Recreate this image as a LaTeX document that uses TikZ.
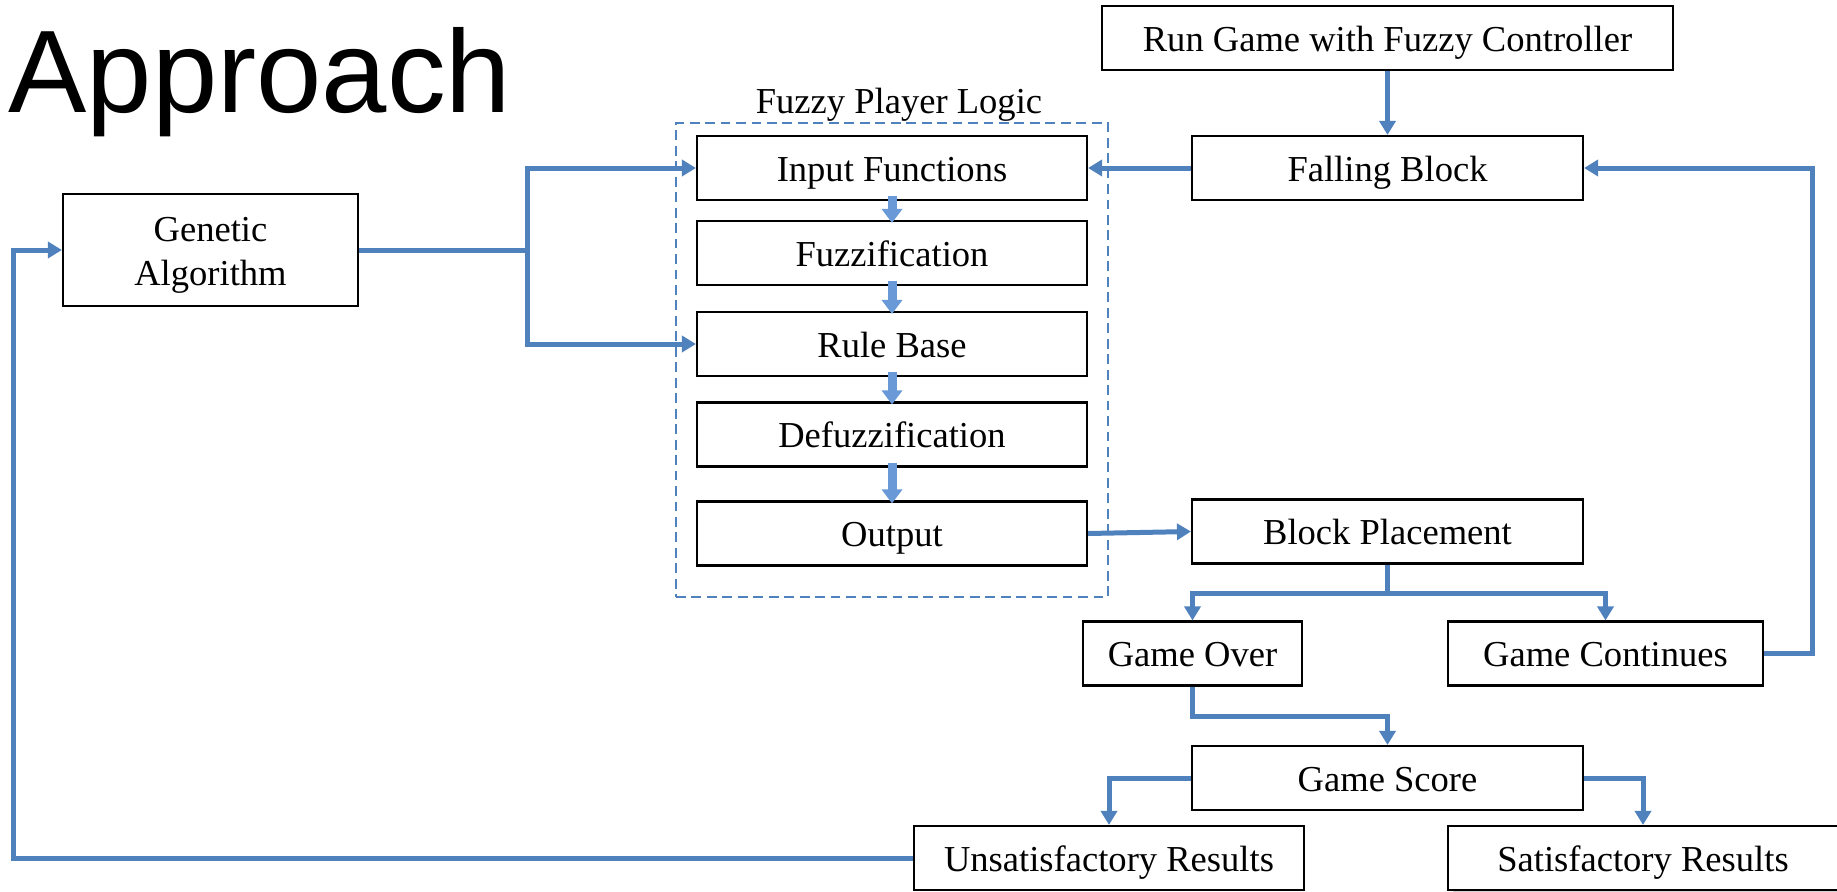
\documentclass[tikz,border=0pt]{standalone}
\usepackage{fontspec}
\setmainfont{Liberation Serif}
\newfontfamily\headfont{Liberation Sans}
\usetikzlibrary{arrows.meta,shadows}

\definecolor{fzblue}{HTML}{4F81BD}
\definecolor{fzlight}{HTML}{6A99D8}

\begin{document}
\begin{tikzpicture}[x=0.1mm, y=-0.1mm,
    font=\fontsize{10.4pt}{12.5pt}\selectfont,
    link/.style={draw=fzblue, line width=0.5mm},
    flow/.style={link, -{Triangle[width=1.6mm,length=1.4mm]}},
    pipe/.style={draw=fzlight, line width=0.9mm, -{Triangle[width=2mm,length=1.4mm]}}]

        \useasboundingbox (0,0) rectangle (1837,891);

        \node[anchor=base west, inner sep=0pt, font=\headfont\fontsize{33.4pt}{40pt}\selectfont] (title) at (8,112) {Approach};

        % dashed frame round the fuzzy controller
        \node[draw=fzblue, line width=0.7pt, dash pattern=on 2.8pt off 1.6pt,
              minimum width=4.32cm, minimum height=4.74cm, inner sep=0pt] (frame) at (892,360) {};
        \node[anchor=base, inner sep=0pt] (framelbl) at (899,113) {Fuzzy Player Logic};

        \begin{scope}[every node/.style={draw, line width=0.6pt, fill=white, inner sep=0pt,
                      minimum height=0.64cm, text height=0.31cm, text depth=0.05cm, align=center}]
          \node[minimum width=5.71cm] (run)   at (1387.5,38)  {Run Game with Fuzzy Controller};
          \node[minimum width=3.91cm] (fall)  at (1387.5,168) {Falling Block};
          \node[minimum width=3.9cm]  (inp)   at (892,168)    {Input Functions};
          \node[minimum width=3.9cm]  (fuz)   at (892,253)    {Fuzzification};
          \node[minimum width=3.9cm]  (rule)  at (892,344)    {Rule Base};
          \node[minimum width=3.9cm]  (defuz) at (892,434.5)  {Defuzzification};
          \node[minimum width=3.9cm]  (out)   at (892,533.5)  {Output};
          \node[minimum width=2.95cm, minimum height=1.12cm, text height=, text depth=]
                                      (ga)    at (210.5,250)  {\rule{0pt}{0.34cm}Genetic\\Algorithm};
          \node[minimum width=3.91cm] (place) at (1387.5,531.5) {Block Placement};
          \node[minimum width=2.19cm] (over)  at (1192.5,653.5) {Game Over};
          \node[minimum width=3.15cm] (cont)  at (1605.5,653.5) {Game Continues};
          \node[minimum width=3.91cm] (score) at (1387.5,778)   {Game Score};
          \node[minimum width=3.9cm]  (unsat) at (1109,858)     {Unsatisfactory Results};
          \node[minimum width=3.9cm, drop shadow={shadow xshift=0.5mm, shadow yshift=-0.5mm, opacity=0.35}]
                                      (sat)   at (1643,858)     {Satisfactory Results};
        \end{scope}

        % steps of the controller
        \foreach \a/\b in {inp/fuz, fuz/rule, rule/defuz, defuz/out}
          \draw[pipe] ([yshift=0.5mm]\a.south) -- ([yshift=-0.3mm]\b.north);

        \coordinate (split) at (527,250);
        \coordinate (fork)  at (1387.5,593);

        \draw[link] (ga.east) -- (split);
        \draw[flow] (split) |- (inp.west);
        \draw[flow] (split) |- (rule.west);
        \draw[flow] (run.south) -- (fall.north);
        \draw[flow] (fall.west) -- (inp.east);
        \draw[flow] (out.east) -- (place.west);
        \draw[link] (place.south) -- (fork);
        \draw[flow] (fork) -| (over.north);
        \draw[flow] (fork) -| (cont.north);
        \draw[flow] (over.south) -- ++(0,30) -| (score.north);
        \draw[flow] (score.west) -| (unsat.north);
        \draw[flow] (score.east) -| (sat.north);
        \draw[flow] (cont.east) -- ++(48,0) |- (fall.east);
        \draw[flow] (unsat.west) -- ++(-899,0) |- (ga.west);

\end{tikzpicture}
\end{document}
